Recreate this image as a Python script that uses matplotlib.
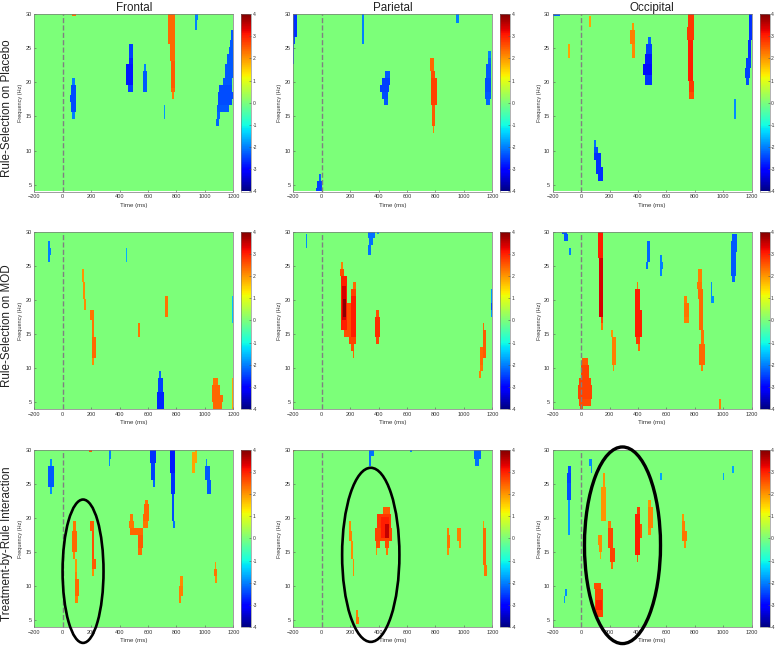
import numpy as np
import matplotlib
matplotlib.use('Agg')
import matplotlib.pyplot as plt
from matplotlib.patches import Ellipse

plt.rcParams['font.family'] = ['Liberation Sans', 'DejaVu Sans']

col_titles = ['Frontal', 'Parietal', 'Occipital']
row_titles = ['Rule-Selection on Placebo', 'Rule-Selection on MOD', 'Treatment-by-Rule Interaction']
time_ticks = [-200, 0, 200, 400, 600, 800, 1000, 1200]
freq_ticks = [5, 10, 15, 20, 25, 30]
cbar_ticks = [-4, -3, -2, -1, 0, 1, 2, 3, 4]
cbar_labels = ['-4', '-3', '-2', '-1', '0', '1', '2', '3', '4']

# each cluster row: (freq low, freq high, time low, time high, t value)
frontal_placebo = [
    (29.5, 30, 63, 93, 2.3),
    (14.5, 15.5, 68, 87, -2.0), (15.5, 19.5, 61, 94, -2.4), (17, 18, 52, 94, -2.4), (19.5, 20.5, 68, 87, -2.0),
    (18.5, 19.5, 460, 495, -2.5), (19.5, 22.5, 452, 500, -2.8), (22.5, 23.5, 464, 500, -2.7), (23.5, 25.5, 471, 495, -2.5),
    (18.5, 21.5, 565, 593, -2.3), (21.5, 22.5, 574, 588, -2.0),
    (25.5, 30, 741, 797, 2.4), (23, 25.5, 753, 793, 2.4), (19, 23, 765, 797, 2.5), (18.5, 19, 767, 790, 2.4), (17.5, 18.5, 772, 783, 2.2),
    (14.5, 16.5, 713, 720, -1.8),
    (29, 30, 931, 957, -2.0), (27.5, 29, 931, 945, -2.0),
    (13.5, 14.5, 1079, 1102, -2.2), (14.5, 15.5, 1083, 1109, -2.2), (15.5, 16.5, 1090, 1168, -2.3),
    (16.5, 17.5, 1095, 1191, -2.4), (17.5, 18.5, 1095, 1198, -2.4), (18.5, 19.5, 1102, 1196, -2.4),
    (19.5, 20.5, 1128, 1196, -2.3), (20.5, 22.5, 1144, 1200, -2.3), (22.5, 24, 1161, 1200, -2.3),
    (24, 25, 1175, 1200, -2.3), (25, 26, 1180, 1200, -2.3), (26, 27.5, 1184, 1198, -2.3),
]
parietal_placebo = [
    (26.5, 30, -199, -176, -2.6), (25.5, 26.5, -199, -185, -2.4), (22.5, 25.5, -199, -190, -2.1),
    (25.5, 30, 286, 302, -2.0), (24.5, 25.5, 288, 295, -1.8),
    (28.5, 30, 943, 968, -2.0),
    (16.5, 17.5, 438, 464, -2.3), (17.5, 18.5, 427, 471, -2.4), (18.5, 19.5, 415, 476, -2.5),
    (19.5, 20.5, 424, 478, -2.5), (20.5, 21.5, 445, 478, -2.3),
    (12.5, 13.5, 783, 797, 2.2), (13.5, 16.5, 778, 802, 2.5), (16.5, 20.5, 771, 809, 2.7),
    (20.5, 21.5, 771, 800, 2.6), (21.5, 23.5, 767, 790, 2.4),
    (16.5, 17.5, 1161, 1184, -2.2), (17.5, 18.5, 1151, 1189, -2.3), (18.5, 20.5, 1151, 1196, -2.4),
    (20.5, 22.5, 1161, 1196, -2.3), (22.5, 23.5, 1168, 1189, -2.2), (23.5, 24.5, 1177, 1189, -2.0),
    (4, 4.5, -42, 5, -2.5), (4.5, 5.5, -30, 5, -2.5), (5.5, 6.5, -19, -5, -2.2),
]
occipital_placebo = [
    (29.5, 30, -199, -152, -2.2),
    (23.5, 25.5, -94, -82, 1.9),
    (28, 29.5, 56, 66, 1.9),
    (23.5, 25.5, 356, 375, 2.1), (25.5, 27.5, 347, 375, 2.2), (27.5, 28.5, 356, 368, 2.0),
    (19.5, 21, 450, 495, -2.6), (21, 22.5, 436, 499, -2.9), (22.5, 24, 446, 499, -2.8),
    (24, 25.5, 457, 495, -2.5), (25.5, 26.5, 471, 488, -2.2),
    (17.5, 18.5, 762, 788, 2.6), (18.5, 20, 755, 793, 2.8), (20, 26, 750, 786, 3.0),
    (26, 28, 739, 797, 2.8), (28, 30, 748, 795, 2.8),
    (14.5, 17.5, 1069, 1086, -1.9),
    (19.5, 20.5, 1154, 1180, -2.4), (20.5, 22, 1149, 1187, -2.5), (22, 23.5, 1161, 1191, -2.5),
    (23.5, 26, 1173, 1196, -2.6), (26, 30, 1180, 1198, -2.6),
    (5.5, 6.5, 122, 157, -2.6), (6.5, 7.5, 105, 157, -2.6), (7.5, 8.5, 105, 141, -2.6),
    (8.5, 9.5, 87, 141, -2.6), (9.5, 10.5, 89, 113, -2.4), (10.5, 11.5, 91, 103, -2.1),
]
frontal_mod = [
    (25.5, 28.5, -103, -87, -2.0), (26.5, 27.5, -87, -80, -2.0),
    (25.5, 27.5, 443, 455, -1.6),
    (18.5, 20, 150, 164, 2.1), (20, 22.5, 143, 159, 2.1), (22.5, 24.5, 141, 150, 2.0),
    (10.5, 11.5, 211, 220, 2.1), (11.5, 14.5, 206, 234, 2.4), (14.5, 17, 206, 227, 2.3), (17, 18.5, 197, 223, 2.3),
    (17.5, 20.5, 727, 741, 2.3),
    (14.5, 16.5, 532, 544, 2.3),
    (16.5, 20.5, 1192, 1200, -1.5),
    (4, 8.5, 1192, 1200, 1.9),
    (4, 6.5, 664, 715, -2.7), (6.5, 8.5, 671, 706, -2.5), (8.5, 9.5, 678, 692, -2.2),
    (4, 5, 1062, 1121, 2.4), (5, 6, 1053, 1128, 2.4), (6, 7.5, 1053, 1109, 2.4), (7.5, 8.5, 1062, 1097, 2.3),
]
parietal_mod = [
    (27.5, 29.5, -110, -98, -1.9),
    (26.5, 28, 331, 352, -2.1), (28, 29, 335, 363, -2.1), (29, 30, 331, 373, -2.1),
    (29.5, 30, 392, 406, -1.8),
    (14.5, 19.5, 159, 223, 2.6),
    (24.5, 25.5, 141, 150, 2.2), (23.5, 24.5, 129, 162, 2.6), (15.5, 23.5, 136, 181, 3.0),
    (17, 22, 145, 176, 3.4), (17.5, 20, 152, 176, 3.9),
    (11.5, 12.5, 218, 232, 2.4), (12.5, 13.5, 204, 232, 2.6), (13.5, 14.5, 195, 241, 2.7),
    (14.5, 20.5, 204, 246, 3.0), (20.5, 21.5, 211, 239, 2.7), (21.5, 22.5, 225, 239, 2.4),
    (13.5, 14.5, 385, 406, 2.7), (14.5, 17.5, 382, 415, 2.9), (17.5, 18.5, 387, 406, 2.6),
    (8.5, 9.5, 1109, 1123, 2.2), (9.5, 10.5, 1114, 1133, 2.3), (10.5, 13, 1116, 1142, 2.4),
    (11.5, 15.5, 1133, 1156, 2.5), (15.5, 16.5, 1133, 1147, 2.4),
    (17.5, 21.5, 1189, 1200, -1.8), (18.5, 19.5, 1189, 1200, -2.4),
]
occipital_mod = [
    (29.5, 30, -134, -98, -2.3), (28.5, 29.5, -122, -96, -2.3),
    (26.5, 27.5, -91, -75, -2.0),
    (24.5, 25.5, 457, 471, -2.1), (25.5, 28.5, 460, 481, -2.2),
    (23.5, 26.5, 556, 570, -2.0), (24.5, 25.5, 570, 577, -2.0),
    (22.5, 23.5, 1060, 1079, -2.2), (23.5, 27, 1053, 1086, -2.3), (27, 28.5, 1055, 1095, -2.3), (28.5, 29.5, 1062, 1095, -2.3),
    (19.5, 20.5, 917, 931, -1.9), (20.5, 22.5, 908, 922, -1.9),
    (15.5, 16.5, 138, 152, 2.3), (16.5, 17.5, 134, 155, 2.7), (17.5, 26, 124, 155, 3.4), (26, 30, 122, 155, 3.0),
    (9.5, 10.5, 218, 232, 2.1), (10.5, 14.5, 213, 241, 2.2), (14.5, 15.5, 209, 220, 2.0),
    (12.5, 13.5, 396, 408, 2.4), (13.5, 14.5, 387, 415, 2.8), (14.5, 18.5, 382, 424, 3.0),
    (18.5, 21.5, 382, 410, 3.0), (21.5, 22.5, 392, 401, 2.3),
    (16.5, 17.5, 727, 755, 2.2), (17.5, 19.5, 727, 762, 2.3), (19.5, 20.5, 720, 739, 2.2),
    (9.5, 10.5, 839, 856, 2.2), (10.5, 13.5, 828, 872, 2.4), (13.5, 15.5, 839, 863, 2.3), (15.5, 20, 832, 856, 2.4),
    (20, 21.5, 821, 856, 2.4), (21.5, 22.5, 809, 851, 2.3), (22.5, 24.5, 818, 847, 2.2),
    (4, 5.5, 968, 985, 2.2),
    (4, 4.5, -12, 12, 2.6), (4.5, 5.5, -16, 63, 2.6), (5.5, 7.5, -26, 75, 2.7),
    (7.5, 8.5, -16, 63, 2.7), (8.5, 10.5, 0, 54, 2.7), (10.5, 11.5, 7, 47, 2.5),
]
frontal_inter = [
    (29.5, 30, 190, 206, 2.5),
    (27.5, 28.5, 326, 335, -1.9), (28.5, 30, 331, 347, -2.0),
    (24.5, 25.5, 635, 650, -2.2), (25.5, 28, 621, 650, -2.5), (28, 30, 617, 659, -2.6),
    (18.5, 19.5, 776, 788, -2.1), (19.5, 23.5, 769, 786, -2.4), (23.5, 26.5, 764, 793, -2.6), (26.5, 30, 757, 797, -2.8),
    (26.5, 28, 915, 929, 1.9), (28, 29.5, 917, 945, 1.9), (29.5, 30, 933, 945, 1.9),
    (27.5, 28.5, 1011, 1022, -1.9), (25.5, 27.5, 1006, 1039, -2.3), (23.5, 25.5, 1015, 1043, -2.3),
    (23.5, 24.5, -87, -77, -1.9), (24.5, 27.5, -103, -59, -2.3), (27.5, 28.5, -84, -75, -1.9),
    (14, 15, 75, 89, 2.2), (15, 18, 68, 103, 2.4), (18, 19.5, 75, 96, 2.3),
    (12, 14, 91, 101, 2.0), (7.5, 8.5, 89, 108, 2.2), (8.5, 11, 84, 115, 2.4), (11, 12, 87, 103, 2.2),
    (11.5, 12.5, 209, 220, 2.1), (12.5, 14, 209, 234, 2.5), (14, 18, 204, 227, 2.6), (18, 19.5, 195, 218, 2.5),
    (14.5, 15.5, 537, 558, 2.4), (15.5, 17.5, 528, 565, 2.5), (17.5, 18.5, 476, 563, 2.4),
    (18.5, 19.5, 469, 504, 2.3), (18.5, 19.5, 563, 605, 2.3), (19.5, 20.5, 476, 499, 2.3),
    (19.5, 20.5, 565, 610, 2.4), (20.5, 22, 577, 612, 2.4), (22, 22.5, 582, 605, 2.3),
    (7.5, 8.5, 818, 837, 2.2), (8.5, 10, 818, 844, 2.2), (10, 11.5, 830, 844, 2.1),
    (10.5, 11.5, 1072, 1083, 2.1), (11.5, 12.5, 1065, 1086, 2.3), (12.5, 13.5, 1072, 1079, 2.0),
]
parietal_inter = [
    (29.5, 30, -199, -190, 2.0),
    (27.5, 29, 333, 352, -2.1), (29, 30, 333, 368, -2.1),
    (29.5, 30, 626, 640, -1.9),
    (27.5, 28.5, 1079, 1109, -2.1), (28.5, 30, 1072, 1119, -2.2),
    (18, 19.5, 197, 209, 2.1), (16.5, 18, 197, 216, 2.2), (14, 16.5, 209, 220, 2.1), (11.5, 14, 218, 232, 2.1),
    (14.5, 15.5, 387, 392, 2.1), (14.5, 15.5, 457, 469, 2.3), (15.5, 16.5, 385, 410, 2.6), (15.5, 16.5, 448, 476, 2.6),
    (16.5, 18.5, 382, 495, 2.7), (18.5, 20.5, 389, 492, 2.8), (20.5, 21.5, 434, 485, 2.5),
    (17, 20, 420, 476, 3.0), (17, 19, 448, 476, 3.5),
    (14.5, 15.5, 886, 898, 2.1), (15.5, 17.5, 879, 907, 2.3), (17.5, 18.5, 879, 898, 2.2),
    (15.5, 16.5, 964, 978, 2.1), (16.5, 18.5, 954, 985, 2.2),
    (11.5, 13, 1147, 1165, 2.3), (13, 18.5, 1135, 1156, 2.4), (18.5, 19.5, 1137, 1147, 2.0),
    (4.5, 5.5, 241, 265, 2.3), (5.5, 6.5, 241, 253, 2.2),
]
occipital_inter = [
    (17.5, 22.5, -94, -82, -1.8), (22.5, 25, -98, -77, -2.4), (25, 26.5, -105, -77, -2.5), (26.5, 27.5, -96, -77, -2.4),
    (26.5, 27.5, 63, 73, -1.9), (27.5, 28.5, 56, 73, -1.9),
    (25.5, 26.5, 556, 565, -1.7), (25.5, 26.5, 994, 1006, -1.7), (26.5, 27.5, 1060, 1072, -1.7),
    (7.5, 8.5, -122, -113, -1.8), (8.5, 9.5, -117, -103, -1.9),
    (19.5, 21.5, 141, 171, 2.0), (21.5, 24.5, 136, 171, 2.0), (24.5, 26.5, 148, 164, 2.0),
    (14, 15, 131, 141, 1.9), (15, 16, 127, 143, 2.1), (16, 17.5, 122, 145, 2.1),
    (12.5, 13.5, 206, 223, 2.4), (13.5, 15.5, 199, 234, 2.7), (15.5, 18.5, 188, 220, 2.7), (18.5, 19.5, 192, 204, 2.3),
    (13.5, 14.5, 392, 401, 2.5), (14.5, 16, 382, 410, 3.0), (16, 20.5, 382, 415, 3.0),
    (17, 19, 415, 424, 2.6), (20.5, 21.5, 389, 415, 2.8),
    (17.5, 18.5, 471, 492, 2.1), (18.5, 21.5, 464, 504, 2.2), (21.5, 22.5, 471, 492, 2.0),
    (15.5, 16.5, 720, 734, 2.1), (16.5, 18, 708, 739, 2.3), (18, 19.5, 706, 732, 2.2), (19.5, 20.5, 703, 725, 2.0),
    (9.5, 10.5, 87, 134, 2.6), (5.5, 9.5, 96, 157, 2.7), (6.5, 8, 105, 143, 3.0),
]

panels = [
    [frontal_placebo, parietal_placebo, occipital_placebo],
    [frontal_mod, parietal_mod, occipital_mod],
    [frontal_inter, parietal_inter, occipital_inter],
]

# hand drawn rings: (row, col, centre time, centre freq, width ms, height Hz, line width)
rings = [
    (2, 0, 143, 12.2, 288, 21.0, 1.9),
    (2, 1, 345, 14.6, 403, 25.5, 1.9),
    (2, 2, 291, 16.0, 535, 28.8, 2.4),
]

# pixel layout of the original figure
W, H = 776, 648
col_left = [34.3, 293.3, 552.7]
row_top = [14, 231.7, 449.7]
ax_w, ax_h = 199, 177.5
cbar_gap, cbar_w = 207, 10

time_edges = np.arange(-200, 1205, 5)
freq_edges = np.arange(4, 30.5, 0.5)
text_col = '#333333'


def make_grid(clusters):
    # paint the cluster rows onto an otherwise empty time-frequency map
    t_mid = (time_edges[:-1] + time_edges[1:]) / 2
    f_mid = (freq_edges[:-1] + freq_edges[1:]) / 2
    grid = np.zeros((len(f_mid), len(t_mid)))
    for f0, f1, t0, t1, val in clusters:
        rows = (f_mid >= f0) & (f_mid <= f1)
        cols = (t_mid >= t0) & (t_mid <= t1)
        grid[np.ix_(rows, cols)] = val
    return grid


def px_rect(left, top, w, h):
    return [left / W, 1 - (top + h) / H, w / W, h / H]


fig = plt.figure(figsize=(W / 100, H / 100), dpi=100)

for r in range(3):
    for c in range(3):
        ax = fig.add_axes(px_rect(col_left[c], row_top[r], ax_w, ax_h))
        im = ax.imshow(make_grid(panels[r][c]), origin='lower', aspect='auto', cmap='jet',
                       vmin=-4, vmax=4, interpolation='nearest',
                       extent=[time_edges[0], time_edges[-1], freq_edges[0], freq_edges[-1]])
        ax.axvline(0, color='#808080', linestyle='--', linewidth=1.0)
        ax.set_xlim(-200, 1200)
        ax.set_ylim(4, 30)
        ax.set_xticks(time_ticks)
        ax.set_yticks(freq_ticks)
        ax.tick_params(direction='in', length=1.5, width=0.4, labelsize=4.0, pad=2,
                       color='#555555', labelcolor=text_col)
        ax.set_xlabel('Time (ms)', fontsize=4.4, labelpad=2.5, color=text_col)
        ax.set_ylabel('Frequency (Hz)', fontsize=4.0, labelpad=1.5, color=text_col)
        for s in ax.spines.values():
            s.set_linewidth(0.5)
            s.set_color('#777777')

        cax = fig.add_axes(px_rect(col_left[c] + cbar_gap, row_top[r], cbar_w, ax_h))
        cb = fig.colorbar(im, cax=cax, ticks=cbar_ticks)
        cb.ax.set_yticklabels(cbar_labels)
        cb.ax.tick_params(direction='in', length=1.2, width=0.4, labelsize=3.6, pad=1,
                          color='#555555', labelcolor=text_col)
        cb.outline.set_linewidth(0.4)
        cb.outline.set_edgecolor('#777777')

        if r == 0:
            ax.set_title(col_titles[c], fontsize=8.4, pad=2.5, color='#222222')
        if c == 0:
            fig.text(7 / W, 1 - (row_top[r] + ax_h / 2 + 5) / H, row_titles[r], rotation=90,
                     fontsize=8.4, ha='center', va='center', color='#222222')

        for rr, cc, t, f, wd, ht, lw in rings:
            if rr == r and cc == c:
                ax.add_patch(Ellipse((t, f), wd, ht, fill=False, edgecolor='black',
                                     linewidth=lw, clip_on=False, zorder=10))

fig.savefig('out.png', dpi=100)
